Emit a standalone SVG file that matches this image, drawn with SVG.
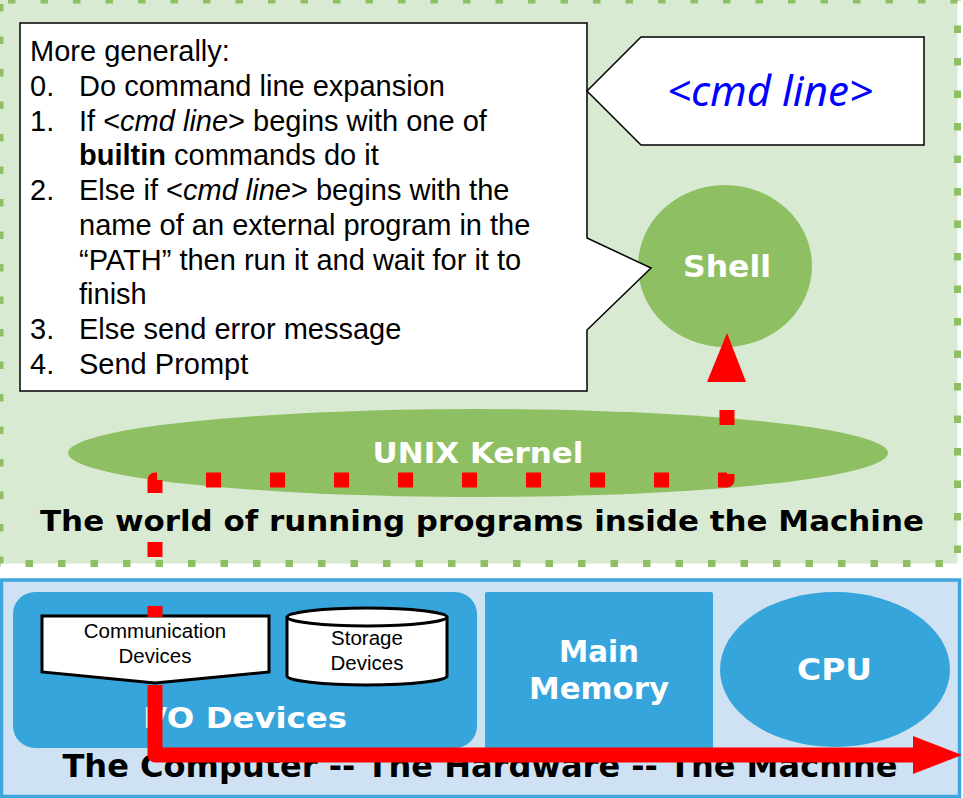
<svg xmlns="http://www.w3.org/2000/svg" width="963" height="798" viewBox="0 0 963 798">
<defs>
<style>
.techW{font-family:"DejaVu Sans",sans-serif;fill:#fff;font-weight:bold;text-anchor:middle}
.techB{font-family:"DejaVu Sans",sans-serif;fill:#000;font-weight:bold;text-anchor:middle}
.arial{font-family:"Liberation Sans",Arial,sans-serif;fill:#000}
.blue{fill:#36a5db}
.dev{fill:#fff;stroke:#000;stroke-width:3}
.red{fill:#f00}
</style>
</defs>
<rect width="963" height="798" fill="#fff"/>
<g id="world">
<rect x="0" y="0" width="957.5" height="563.5" fill="#d9ead3" stroke="#8fbf63" stroke-width="7" stroke-dasharray="7.5 25" stroke-dashoffset="-8"/>
<text class="techB" x="482" y="531" font-size="29" textLength="884" lengthAdjust="spacingAndGlyphs">The world of running programs inside the Machine</text>
</g>
<g id="machine">
<rect x="1.5" y="580" width="958" height="216.5" fill="#cfe2f3" stroke="#3ea6dc" stroke-width="3.5"/>
<text class="techB" x="480" y="777" font-size="32" textLength="835" lengthAdjust="spacingAndGlyphs">The Computer -- The Hardware -- The Machine</text>
</g>
<g id="io">
<rect class="blue" x="13" y="592" width="464" height="156" rx="22"/>
<text class="techW" x="245" y="728" font-size="29" textLength="204" lengthAdjust="spacingAndGlyphs">I/O Devices</text>
</g>
<g id="memory">
<rect class="blue" x="485" y="592" width="228" height="160" rx="2"/>
<text class="techW" x="599" y="662" font-size="30" textLength="80" lengthAdjust="spacingAndGlyphs">Main</text>
<text class="techW" x="599" y="699" font-size="30" textLength="140" lengthAdjust="spacingAndGlyphs">Memory</text>
</g>
<g id="cpu">
<ellipse class="blue" cx="835" cy="669.5" rx="115" ry="77.5"/>
<text class="techW" x="834.5" y="680" font-size="30" textLength="75" lengthAdjust="spacingAndGlyphs">CPU</text>
</g>
<g id="comm">
<polygon class="dev" points="42,616 269,616 269,672 155,683 42,672"/>
<text class="arial" x="155" y="638" font-size="20.5" text-anchor="middle">Communication</text>
<text class="arial" x="155" y="663" font-size="20.5" text-anchor="middle">Devices</text>
</g>
<g id="storage">
<path class="dev" d="M287,617 A80,9 0 0 1 447,617 V676 A80,9 0 0 1 287,676 Z"/>
<path d="M287,617 A80,9 0 0 0 447,617" fill="none" stroke="#000" stroke-width="3"/>
<text class="arial" x="367" y="645" font-size="20.5" text-anchor="middle">Storage</text>
<text class="arial" x="367" y="670" font-size="20.5" text-anchor="middle">Devices</text>
</g>
<g id="kernel">
<ellipse cx="478" cy="453" rx="410" ry="44" fill="#8fbf63"/>
<text class="techW" x="478" y="463" font-size="29" textLength="211" lengthAdjust="spacingAndGlyphs">UNIX Kernel</text>
</g>
<g id="shell">
<ellipse cx="725" cy="266" rx="87" ry="81" fill="#8fbf63"/>
<text class="techW" x="727" y="277" font-size="30" textLength="88" lengthAdjust="spacingAndGlyphs">Shell</text>
</g>
<g id="callout">
<polygon points="20,23 587,23 587,238 651,268 587,330 587,391 20,391" fill="#fff" stroke="#000" stroke-width="1.5"/>
<g class="arial" font-size="29">
<text x="30" y="61">More generally:</text>
<text x="30" y="96">0.</text><text x="79" y="96">Do command line expansion</text>
<text x="30" y="131">1.</text><text x="79" y="131">If &lt;<tspan font-style="italic">cmd line</tspan>&gt; begins with one of</text>
<text x="79" y="165"><tspan font-weight="bold">builtin</tspan> commands do it</text>
<text x="30" y="200">2.</text><text x="79" y="200">Else if &lt;<tspan font-style="italic">cmd line</tspan>&gt; begins with the</text>
<text x="79" y="235">name of an external program in the</text>
<text x="79" y="270">“PATH” then run it and wait for it to</text>
<text x="79" y="304">finish</text>
<text x="30" y="339">3.</text><text x="79" y="339">Else send error message</text>
<text x="30" y="374">4.</text><text x="79" y="374">Send Prompt</text>
</g>
</g>
<g id="cmdline">
<polygon points="587,91 641,37 924,37 924,145 641,145" fill="#fff" stroke="#000" stroke-width="1.5"/>
<text x="770" y="106" font-family="'Noto Sans','Open Sans',sans-serif" font-style="italic" font-size="42" fill="#0000ff" text-anchor="middle">&lt;cmd line&gt;</text>
</g>
<g id="connectors">
<path d="M155,617 V480 H727 V382" fill="none" stroke="#f00" stroke-width="15" stroke-dasharray="15 49" stroke-dashoffset="4" stroke-linejoin="round"/>
<polygon class="red" points="707,382 727,333 746,382"/>
<path d="M155,685 V755 H915" fill="none" stroke="#f00" stroke-width="15" stroke-linejoin="round"/>
<polygon class="red" points="913,736 962,755 913,774"/>
</g>
</svg>
